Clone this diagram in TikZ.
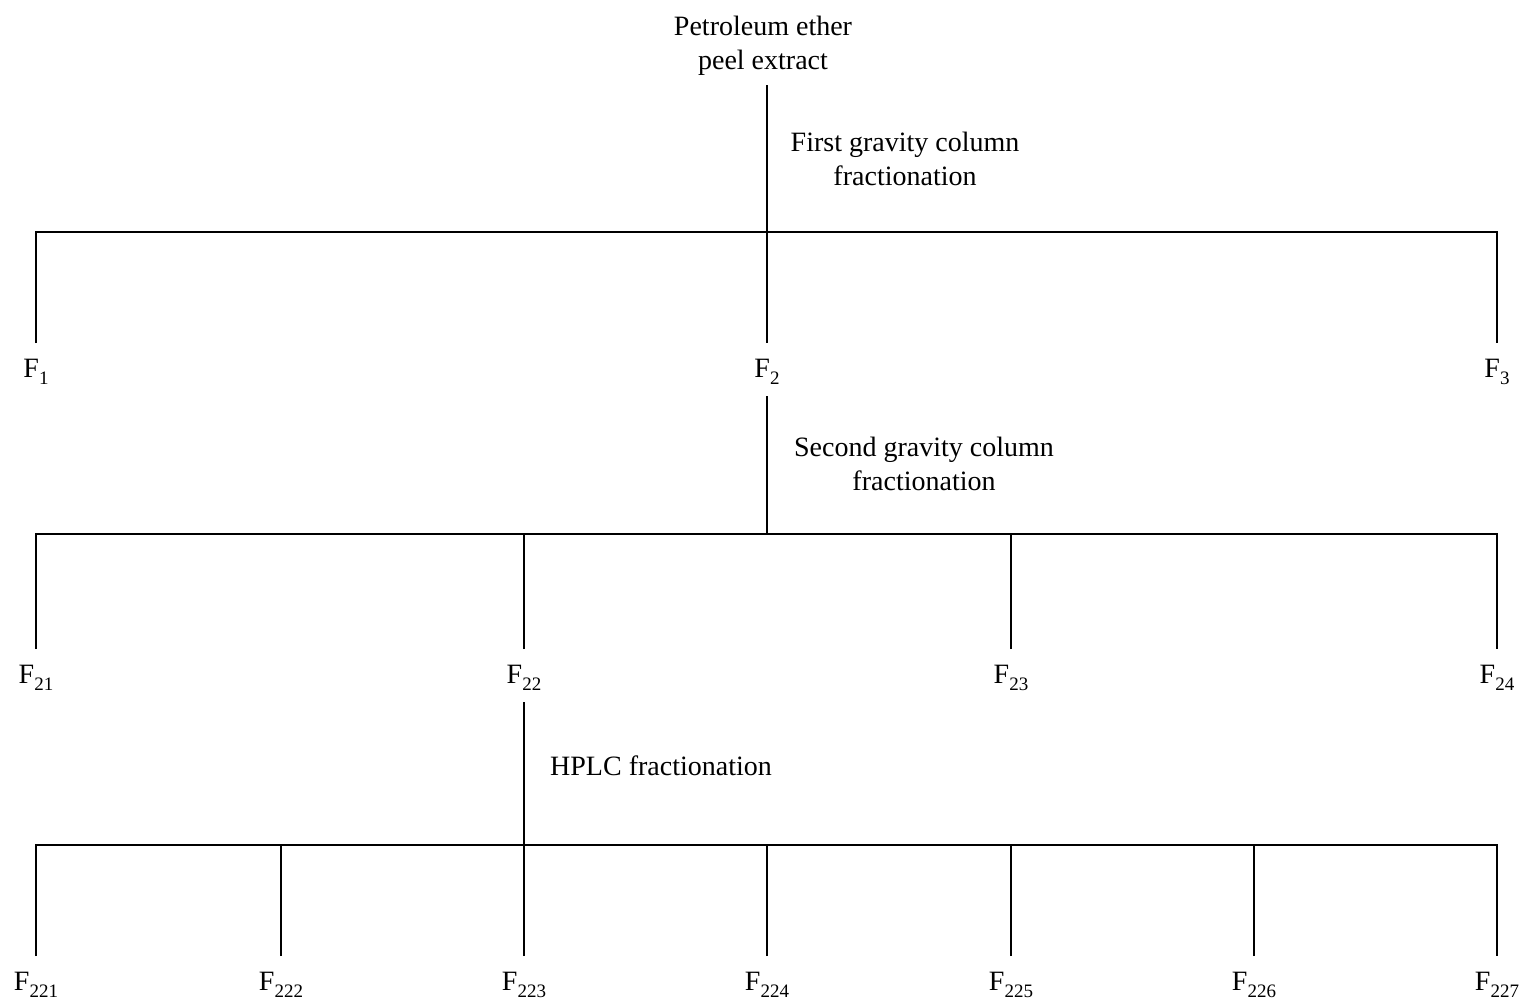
\documentclass[tikz,border=0pt]{standalone}
\usepackage{fontspec}
\setmainfont{Liberation Serif}
\newcommand\fsub[1]{F\raisebox{-0.55ex}{\fontsize{19}{19}\selectfont #1}}
\begin{document}
\begin{tikzpicture}[x=1pt,y=-1pt,
  every node/.style={font=\fontsize{28}{34}\selectfont},
  lbl/.style={anchor=base, inner sep=0pt, outer sep=0pt, text height=34pt, text depth=19pt},
  txt/.style={align=center, inner sep=0pt},
  ln/.style={line width=1.8pt}]
\useasboundingbox (0,0) rectangle (1522,1005);
% texts
\node[txt] (top) at (763,46) {Petroleum ether\\peel extract};
\node[txt] (s1) at (905,159) {First gravity column\\fractionation};
\node[txt] (s2) at (924,464) {Second gravity column\\fractionation};
\node[anchor=base west, inner sep=0pt] (s3) at (550,775) {HPLC fractionation};
% labels level 1
\node[lbl] (f1) at (36,377) {\fsub{1}};
\node[lbl] (f2) at (767,377) {\fsub{2}};
\node[lbl] (f3) at (1497,377) {\fsub{3}};
% labels level 2
\node[lbl] (f21) at (36,683) {\fsub{21}};
\node[lbl] (f22) at (524,683) {\fsub{22}};
\node[lbl] (f23) at (1011,683) {\fsub{23}};
\node[lbl] (f24) at (1497,683) {\fsub{24}};
% labels level 3
\node[lbl] (f221) at (36,990) {\fsub{221}};
\node[lbl] (f222) at (281,990) {\fsub{222}};
\node[lbl] (f223) at (524,990) {\fsub{223}};
\node[lbl] (f224) at (767,990) {\fsub{224}};
\node[lbl] (f225) at (1011,990) {\fsub{225}};
\node[lbl] (f226) at (1254,990) {\fsub{226}};
\node[lbl] (f227) at (1497,990) {\fsub{227}};
% bars
\coordinate (b1) at (767,232);
\coordinate (b2) at (767,534);
\coordinate (b3) at (524,845);
\coordinate (t0) at (767,85);
% level 1
\draw[ln] (t0) -- (f2.north);
\draw[ln] (f1.north) |- (f3.north |- b1) -- (f3.north);
% level 2
\draw[ln] (f2.south) -- (b2);
\draw[ln] (f21.north) |- (f24.north |- b2) -- (f24.north);
\draw[ln] (f22.north) -- (f22.north |- b2);
\draw[ln] (f23.north) -- (f23.north |- b2);
% level 3
\draw[ln] (f22.south) -- (b3);
\draw[ln] (f221.north) |- (f227.north |- b3) -- (f227.north);
\foreach \n in {222,223,224,225,226}{
  \draw[ln] (f\n.north) -- (f\n.north |- b3);
}
\end{tikzpicture}
\end{document}
